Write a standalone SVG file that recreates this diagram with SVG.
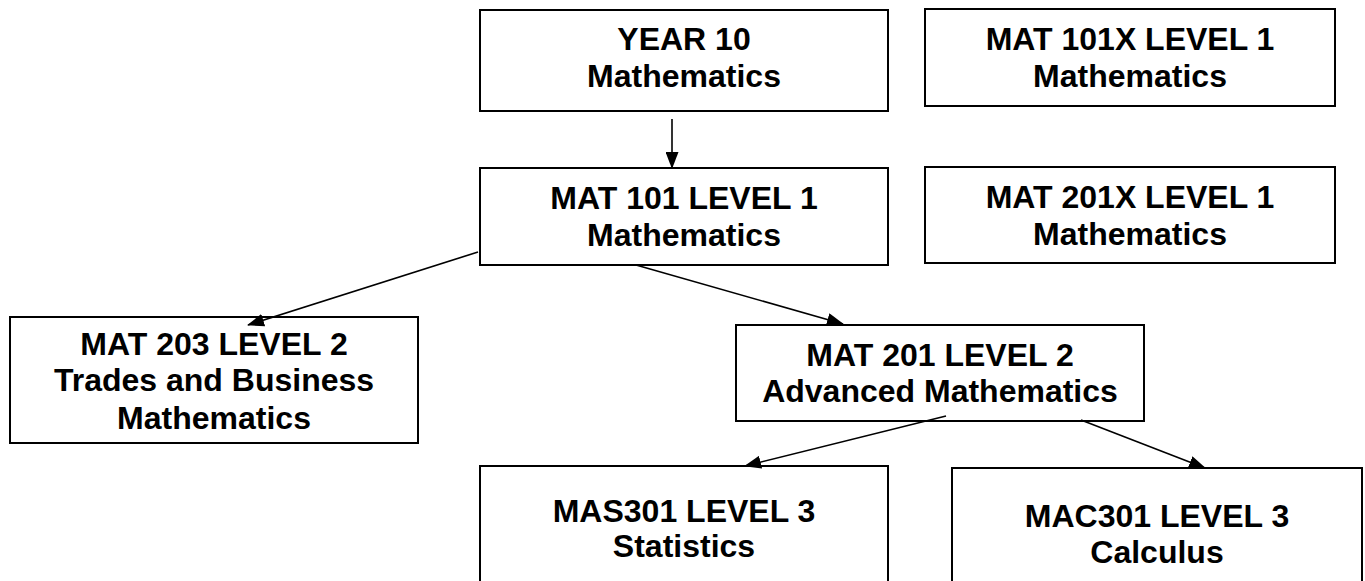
<svg xmlns="http://www.w3.org/2000/svg" width="1365" height="581" viewBox="0 0 1365 581">
<style>
.box{fill:#fff;stroke:#000;stroke-width:2}
.t{font-family:"Liberation Sans",Arial,sans-serif;font-weight:bold;font-size:32px;text-anchor:middle;fill:#000}
.c{stroke:#000;stroke-width:1.6;fill:none;marker-end:url(#ah)}
</style>
<defs>
<marker id="ah" markerUnits="userSpaceOnUse" markerWidth="17" markerHeight="13" refX="16" refY="6.5" orient="auto">
<path d="M0,0 L17,6.5 L0,13 Z" fill="#000"/>
</marker>
</defs>
<rect width="1365" height="581" fill="#fff"/>
<g id="year10">
<rect class="box" x="480" y="10" width="408" height="101"/>
<text class="t" x="684" y="50">YEAR 10</text>
<text class="t" x="684" y="87">Mathematics</text>
</g>
<g id="mat101x">
<rect class="box" x="925" y="9" width="410" height="97"/>
<text class="t" x="1130" y="50">MAT 101X LEVEL 1</text>
<text class="t" x="1130" y="87">Mathematics</text>
</g>
<g id="mat101">
<rect class="box" x="480" y="168" width="408" height="97"/>
<text class="t" x="684" y="209">MAT 101 LEVEL 1</text>
<text class="t" x="684" y="246">Mathematics</text>
</g>
<g id="mat201x">
<rect class="box" x="925" y="167" width="410" height="96"/>
<text class="t" x="1130" y="208">MAT 201X LEVEL 1</text>
<text class="t" x="1130" y="245">Mathematics</text>
</g>
<g id="mat203">
<rect class="box" x="10" y="317" width="408" height="126"/>
<text class="t" x="214" y="355">MAT 203 LEVEL 2</text>
<text class="t" x="214" y="391">Trades and Business</text>
<text class="t" x="214" y="429">Mathematics</text>
</g>
<g id="mat201">
<rect class="box" x="736" y="325" width="408" height="96"/>
<text class="t" x="940" y="366">MAT 201 LEVEL 2</text>
<text class="t" x="940" y="402">Advanced Mathematics</text>
</g>
<g id="mas301">
<rect class="box" x="480" y="466" width="408" height="130"/>
<text class="t" x="684" y="522">MAS301 LEVEL 3</text>
<text class="t" x="684" y="557">Statistics</text>
</g>
<g id="mac301">
<rect class="box" x="952" y="468" width="410" height="130"/>
<text class="t" x="1157" y="527">MAC301 LEVEL 3</text>
<text class="t" x="1157" y="563">Calculus</text>
</g>
<g id="connectors">
<line class="c" x1="672" y1="119" x2="672" y2="168"/>
<line class="c" x1="478" y1="252" x2="248" y2="325"/>
<line class="c" x1="636" y1="265" x2="843" y2="324"/>
<line class="c" x1="946" y1="416" x2="745" y2="466"/>
<line class="c" x1="1081" y1="420" x2="1205" y2="468"/>
</g>
</svg>
